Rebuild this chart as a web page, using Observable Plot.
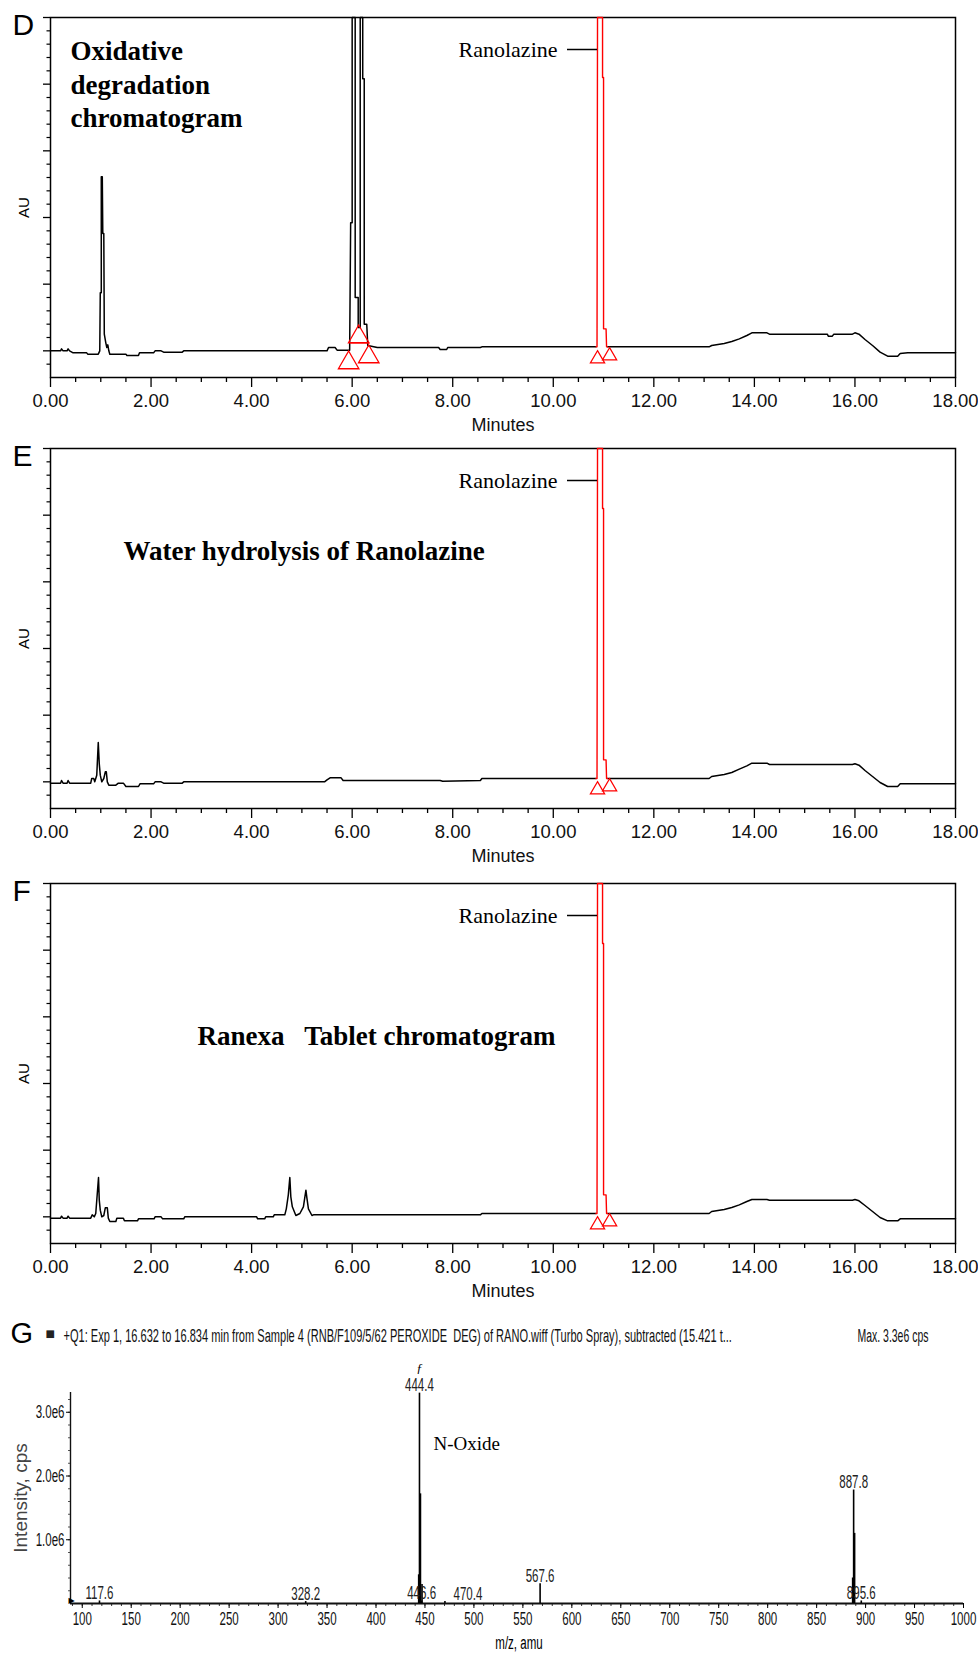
<!DOCTYPE html>
<html><head><meta charset="utf-8">
<script src="https://cdn.jsdelivr.net/npm/d3@7"></script>
<script src="https://cdn.jsdelivr.net/npm/@observablehq/plot@0.6"></script>
<style>
body{margin:0;background:#fff}
#wrap{position:relative;width:978px;height:1658px;overflow:hidden;background:#fff}
#wrap > svg{position:absolute;left:0}
</style>
</head><body><div id="wrap"></div>
<script>
// ---------- tick labels ----------
const minuteMajor = [0, 2, 4, 6, 8, 10, 12, 14, 16, 18];
const minuteMinor = [1,3,5,7,9,11,13,15,17,0.5,1.5,2.5,3.5,4.5,5.5,6.5,7.5,8.5,9.5,10.5,11.5,12.5,13.5,14.5,15.5,16.5,17.5];
const auMajor = [0, 1, 2, 3, 4, 5];
const auMinor = [-0.2,0.2,0.4,0.6,0.8,1.2,1.4,1.6,1.8,2.2,2.4,2.6,2.8,3.2,3.4,3.6,3.8,4.2,4.4,4.6,4.8];
const mzMajor = [100,150,200,250,300,350,400,450,500,550,600,650,700,750,800,850,900,950,1000];
const intMajor = [1e6, 2e6, 3e6];

// ---------- panel titles ----------
const panelLetters = ["D", "E", "F", "G"];
const panelTitles = ["Oxidative\ndegradation\nchromatogram", "Water hydrolysis of Ranolazine", "Ranexa\u00a0\u00a0 Tablet chromatogram"];
const peakLabels = [{name: "Ranolazine", t: 10.88, au: 4.52}];

// ---------- D: oxidative degradation (minutes, AU) ----------
const dTrace = [
[0,0],[0.2,0],[0.22,0.03],[0.25,0],[0.33,0],[0.35,0.03],[0.38,0],[0.45,-0.03],[0.72,-0.03],[0.74,-0.05],[0.95,-0.05],[0.98,0],
[0.99,0.87],[1.01,0.87],[1.01,2.61],[1.03,2.61],[1.04,1.76],[1.06,1.76],[1.07,0.25],[1.1,0.12],[1.12,0.05],[1.14,0.09],[1.16,0.0],
[1.18,-0.05],[1.5,-0.05],[1.52,-0.07],[1.75,-0.07],[1.77,-0.03],[2.05,-0.03],[2.08,0],[2.2,0],[2.25,-0.02],[2.62,-0.02],[2.65,0],
[5.5,0],[5.53,0.05],[5.66,0.05],[5.7,0.01],[5.95,0.01],[5.97,1.92],[6.0,1.92],[6.0,5],[6.06,5],[6.06,0.8],[6.12,0.8],[6.12,0.35],
[6.16,0.35],[6.16,5],[6.21,5],[6.21,4.08],[6.24,4.08],[6.24,0.4],[6.29,0.4],[6.31,0.08],[6.5,0.05],[7.72,0.05],[7.75,0.02],[7.88,0.02],
[7.9,0.05],[8.55,0.05],[8.58,0.06],[10.85,0.06],[10.9,NaN],[11.08,0.06],[13.1,0.06],[13.15,0.08],[13.4,0.11],[13.55,0.14],[13.7,0.18],
[13.85,0.23],[13.95,0.27],[14.25,0.27],[14.3,0.25],[15.45,0.25],[15.47,0.22],[15.55,0.22],[15.58,0.25],[15.95,0.25],[16.0,0.27],
[16.08,0.25],[16.2,0.17],[16.35,0.08],[16.5,-0.02],[16.65,-0.08],[16.85,-0.08],[16.9,-0.04],[17.05,-0.03],[18,-0.03]
];
const dRano = [[10.85,0.06],[10.87,0.06],[10.88,5],[10.98,5],[10.98,4.1],[11.0,4.1],[11.0,0.33],[11.05,0.33],[11.06,0.06],[11.08,0.06]];
const dTriBig = [[5.93,-0.18],[6.13,0.21],[6.33,-0.09]];
const dFit = [[5.97,0.12],[6.33,0.12]];
const dTriSmall = [[10.88,-0.12],[11.12,-0.075]];

// ---------- E: water hydrolysis ----------
const eTrace = [
[0,-0.02],[0.2,-0.02],[0.22,0.02],[0.25,-0.02],[0.33,-0.02],[0.35,0.02],[0.38,-0.02],[0.8,-0.02],[0.82,0.05],[0.86,0.05],[0.88,0.0],
[0.92,0.1],[0.95,0.59],[0.97,0.27],[0.99,0.1],[1.02,0.0],[1.06,0.05],[1.09,0.15],[1.11,0.15],[1.13,0.0],[1.16,-0.05],[1.3,-0.05],
[1.35,-0.02],[1.45,-0.02],[1.5,-0.07],[1.75,-0.07],[1.78,-0.03],[2.05,-0.03],[2.08,0.0],[2.2,0],[2.25,-0.02],[2.62,-0.02],[2.65,0.0],
[5.45,0.0],[5.5,0.03],[5.56,0.06],[5.78,0.06],[5.82,0.02],[7.75,0.02],[7.8,0.01],[8.55,0.02],[8.58,0.05],[10.85,0.05],[10.9,NaN],
[11.08,0.05],[13.1,0.05],[13.15,0.08],[13.4,0.11],[13.55,0.14],[13.7,0.19],[13.85,0.24],[13.95,0.28],[14.25,0.28],[14.3,0.26],
[15.95,0.26],[16.0,0.27],[16.08,0.25],[16.2,0.17],[16.35,0.08],[16.5,-0.01],[16.65,-0.07],[16.85,-0.07],[16.9,-0.03],[18,-0.03]
];
const eRano = [[10.85,0.05],[10.87,0.05],[10.88,5],[10.98,5],[10.98,4.1],[11.0,4.1],[11.0,0.33],[11.05,0.33],[11.06,0.05],[11.08,0.05]];
const eTriSmall = [[10.88,-0.12],[11.12,-0.075]];

// ---------- F: Ranexa tablet ----------
const fTrace = [
[0,-0.02],[0.2,-0.02],[0.22,0.01],[0.25,-0.02],[0.33,-0.02],[0.35,0.01],[0.38,-0.02],[0.8,-0.02],[0.83,0.03],[0.87,0.0],[0.9,0.05],
[0.955,0.59],[0.97,0.25],[0.99,0.1],[1.02,0.0],[1.06,0.02],[1.09,0.135],[1.13,0.135],[1.15,-0.02],[1.18,-0.07],[1.3,-0.07],
[1.32,-0.02],[1.45,-0.02],[1.47,-0.06],[1.73,-0.06],[1.75,-0.03],[2.06,-0.03],[2.08,0],[2.2,0],[2.23,-0.03],[2.65,-0.03],[2.67,0],
[4.1,0],[4.12,-0.03],[4.26,-0.03],[4.28,0],[4.43,0],[4.45,0.03],[4.66,0.03],[4.69,0.12],[4.73,0.33],[4.76,0.59],[4.78,0.3],
[4.81,0.15],[4.88,0.02],[4.96,0.05],[5.03,0.15],[5.08,0.4],[5.1,0.28],[5.13,0.12],[5.2,0.02],[5.23,0.03],[8.55,0.03],[8.58,0.05],
[10.85,0.05],[10.9,NaN],[11.08,0.05],[13.1,0.05],[13.15,0.08],[13.4,0.11],[13.55,0.14],[13.7,0.18],[13.85,0.23],[13.95,0.26],
[14.25,0.26],[14.3,0.25],[15.95,0.25],[16.0,0.26],[16.08,0.24],[16.2,0.17],[16.35,0.08],[16.5,-0.01],[16.65,-0.06],[16.85,-0.06],
[16.9,-0.03],[18,-0.03]
];
const fRano = [[10.85,0.05],[10.87,0.05],[10.88,5],[10.98,5],[10.98,4.1],[11.0,4.1],[11.0,0.33],[11.05,0.33],[11.06,0.05],[11.08,0.05]];
const fTriSmall = [[10.88,-0.12],[11.12,-0.075]];

// ---------- G: mass spectrum (m/z, intensity cps, label) ----------
const gPeaks = [
[117.6, 0.04e6, "117.6"],
[328.2, 0.03e6, "328.2"],
[443.6, 0.45e6, ""],
[444.4, 3.30e6, "444.4"],
[445.4, 1.72e6, ""],
[446.6, 0.04e6, "446.6"],
[447.0, 0.30e6, ""],
[470.4, 0.03e6, "470.4"],
[567.6, 0.31e6, "567.6"],
[886.8, 0.40e6, ""],
[887.8, 1.78e6, "887.8"],
[888.8, 1.10e6, ""],
[895.6, 0.04e6, "895.6"]
];
const gHeader = "+Q1: Exp 1, 16.632 to 16.834 min from Sample 4 (RNB/F109/5/62 PEROXIDE\u00a0\u00a0DEG) of RANO.wiff (Turbo Spray), subtracted (15.421 t...";
const gMax = "Max. 3.3e6 cps";
const gNote = {name: "N-Oxide", mz: 444.4, intensity: 2.5e6};

// ---------- drawing ----------
const SANS = "'Liberation Sans', Arial, sans-serif";
const SERIF = "'Liberation Serif', 'Times New Roman', serif";
const X = d => d[0], Y = d => d[1];
const wrap = document.getElementById("wrap");

function chromatogram(p) {
  const marks = [
    Plot.axisX({ticks: minuteMinor, tickSize: 5, tickFormat: () => "", label: null, strokeWidth: 1.3}),
    Plot.axisX({ticks: minuteMajor, tickSize: 10, tickPadding: 6, tickFormat: d => d.toFixed(2), label: null, fontSize: 18.5, fill: "#111", strokeWidth: 1.3}),
    Plot.axisY({ticks: auMinor, tickSize: 3.5, tickFormat: () => "", label: null, strokeWidth: 1.2}),
    Plot.axisY({ticks: auMajor, tickSize: 7, tickFormat: () => "", label: null, strokeWidth: 1.3}),
    Plot.frame({stroke: "#000", strokeWidth: 1.5}),
    Plot.line(p.trace, {x: X, y: Y, stroke: "#000", strokeWidth: 1.5}),
    Plot.line(p.rano, {x: X, y: Y, stroke: "#ff0000", strokeWidth: 1.4}),
    Plot.dot(p.triSmall, {x: X, y: Y, symbol: "triangle", r: 5.3, stroke: "#ff0000", fill: "none", strokeWidth: 1.2}),
    Plot.ruleY(peakLabels, {y: d => d.au, x1: d => d.t, x2: d => d.t, insetLeft: -30, stroke: "#000", strokeWidth: 1.5}),
    Plot.text(peakLabels, {x: d => d.t, y: d => d.au, text: d => d.name, textAnchor: "end", dx: -40, fontFamily: SERIF, fontSize: 22}),
    Plot.text([p.title], {text: d => d, frameAnchor: "top-left", dx: p.tdx, dy: p.tdy, lineAnchor: "top", textAnchor: "start",
      fontFamily: SERIF, fontWeight: "bold", fontSize: 27, lineHeight: 1.24}),
    Plot.text([p.letter], {text: d => d, frameAnchor: "top-left", dx: -38, dy: -4, lineAnchor: "top", textAnchor: "start", fontFamily: SANS, fontSize: 30}),
    Plot.text(["AU"], {text: d => d, frameAnchor: "left", textAnchor: "middle", dx: -26, dy: 10, rotate: -90, fontFamily: SANS, fontSize: 15}),
    Plot.text(["Minutes"], {text: d => d, frameAnchor: "bottom", dy: 53, fontFamily: SANS, fontSize: 18, fill: "#111"})
  ];
  if (p.triBig) {
    marks.push(Plot.line(p.fit, {x: X, y: Y, stroke: "#ff0000", strokeWidth: 1.4}));
    marks.push(Plot.dot(p.triBig, {x: X, y: Y, symbol: "triangle", r: 7.6, stroke: "#ff0000", fill: "none", strokeWidth: 1.3}));
  }
  const svg = Plot.plot({
    width: 978, height: 431, marginTop: 17, marginRight: 23, marginBottom: 54, marginLeft: 50,
    x: {domain: [0, 18]}, y: {domain: [-0.4, 5]},
    style: {background: "transparent", fontFamily: SANS, color: "#000", overflow: "visible"},
    marks
  });
  svg.style.top = p.top + "px";
  wrap.appendChild(svg);
}

chromatogram({trace: dTrace, rano: dRano, triSmall: dTriSmall, triBig: dTriBig, fit: dFit, title: panelTitles[0], tdx: 20, tdy: 19, letter: panelLetters[0], top: 0});
chromatogram({trace: eTrace, rano: eRano, triSmall: eTriSmall, title: panelTitles[1], tdx: 73, tdy: 88, letter: panelLetters[1], top: 431});
chromatogram({trace: fTrace, rano: fRano, triSmall: fTriSmall, title: panelTitles[2], tdx: 147, tdy: 138, letter: panelLetters[2], top: 866});

// ---------- panel G ----------
const labeled = gPeaks.filter(d => d[2] && d[2] !== "470.4");
const shifted = gPeaks.filter(d => d[2] === "470.4");
const gSvg = Plot.plot({
  width: 978, height: 358, marginTop: 92, marginRight: 15, marginBottom: 55, marginLeft: 70,
  x: {domain: [88, 1000]}, y: {domain: [0, 3.31e6]},
  style: {background: "transparent", fontFamily: SANS, color: "#000", overflow: "visible"},
  marks: [
    Plot.axisX({ticks: d3.range(90, 1001, 10), tickSize: 3, tickFormat: () => "", label: null, stroke: "#333"}),
    Plot.axisX({ticks: mzMajor, tickSize: 5, tickPadding: 4, tickFormat: d => String(d), label: null, fontSize: 18, fill: "#111"}),
    Plot.axisY({ticks: d3.range(0.2e6, 3.31e6, 0.2e6), tickSize: 2, tickFormat: () => "", label: null, stroke: "#555"}),
    Plot.axisY({ticks: intMajor, tickSize: 4, tickPadding: 2, tickFormat: d => (d / 1e6).toFixed(1) + "e6", label: null, fontSize: 18, fill: "#111"}),
    Plot.ruleY([0], {stroke: "#111", strokeWidth: 1.8}),
    Plot.ruleX([88], {stroke: "#111", strokeWidth: 1.4}),
    Plot.ruleX(gPeaks, {x: X, y1: () => 0, y2: Y, stroke: "#000", strokeWidth: 1.6}),
    Plot.text(labeled, {x: X, y: Y, text: d => d[2], lineAnchor: "bottom", dy: -2, fontSize: 18, fill: "#222"}),
    Plot.text(shifted, {x: X, y: Y, text: d => d[2], lineAnchor: "bottom", dy: -2, dx: 23, fontSize: 18, fill: "#222"}),
    Plot.text(gPeaks.filter(d => d[2] === "444.4"), {x: X, y: Y, text: () => "\u0192", dy: -25, fontSize: 13, fontStyle: "italic", fontFamily: SERIF}),
    Plot.text([gNote], {x: d => d.mz, y: d => d.intensity, text: d => d.name, dx: 14, textAnchor: "start", fontFamily: SERIF, fontSize: 19}),
    Plot.text([panelLetters[3]], {text: d => d, frameAnchor: "top-left", dx: -60, dy: -70, lineAnchor: "top", textAnchor: "start", fontSize: 29}),
    Plot.text(["\u25A0"], {text: d => d, frameAnchor: "top-left", dx: -25, dy: -63, textAnchor: "start", fontFamily: "'DejaVu Sans', sans-serif", fontSize: 10, fill: "#222"}),
    Plot.text([gHeader], {text: d => d, frameAnchor: "top-left", dx: -7, dy: -64, textAnchor: "start", fontSize: 19, fill: "#111"}),
    Plot.text([gMax], {text: d => d, frameAnchor: "top-left", dx: 787, dy: -64, textAnchor: "start", fontSize: 19, fill: "#111"}),
    Plot.text(["\u25B6"], {text: d => d, frameAnchor: "bottom-left", dx: -2, dy: -1, fontSize: 8, fontFamily: "'DejaVu Sans', sans-serif"}),
    Plot.text(["m/z, amu"], {text: d => d, frameAnchor: "bottom", dx: 2, dy: 45, fontSize: 18}),
    Plot.text(["Intensity, cps"], {text: d => d, frameAnchor: "left", textAnchor: "middle", dx: -50, rotate: -90, fontSize: 19, fill: "#444"})
  ]
});
gSvg.style.top = "1300px";
wrap.appendChild(gSvg);

// condensed look of the instrument software text (horizontal squeeze around each anchor)
const keepWide = new Set(["N-Oxide", "G", "Intensity, cps", "\u0192", "\u25A0", "\u25B6"]);
const fitWidth = new Map([[gHeader, 669], [gMax, 71]]);
d3.select(gSvg).selectAll("text").each(function() {
  const t = this.textContent;
  if (keepWide.has(t) || t === "") return;
  let s = 0.64;
  if (fitWidth.has(t)) s = fitWidth.get(t) / this.getComputedTextLength();
  const tr = this.getAttribute("transform") || "";
  this.setAttribute("transform", (tr + ` scale(${s},1)`).trim());
});
</script></body></html>
